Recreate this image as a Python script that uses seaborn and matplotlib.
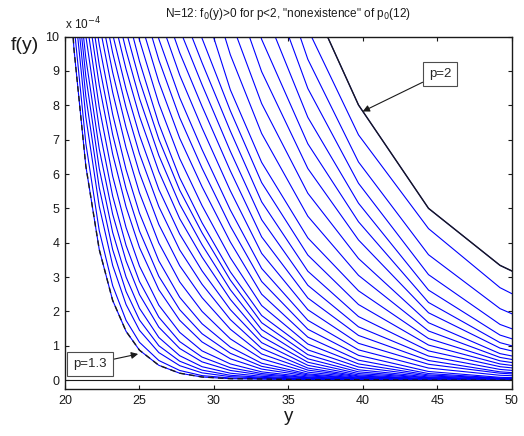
import numpy as np
import pandas as pd
import matplotlib
matplotlib.use("Agg")
import matplotlib.pyplot as plt
import seaborn as sns

# === sample points on the y axis (shared by all curves) ===
y_grid = [19.8, 20.6, 21.4, 22.3, 23.2, 24.1, 25.0, 26.3, 27.7, 29.2, 31.1, 33.2, 36.3, 39.7, 44.4, 49.2, 54.0]

# === f(y) values, in units of 1e-6; each curve sits on the LAST len(curve) points of y_grid ===
# first curve is p=1.3 (dashed), last curve is p=2 (solid black)
f_curves = [
    [1496, 965, 623, 380, 232, 142, 87, 43, 20, 9, 4, 3, 1, 1, 0, 0, 0],
    [1036, 689, 435, 275, 174, 110, 57, 28, 13, 6, 4, 2, 1, 0, 0, 0],
    [1109, 766, 506, 334, 220, 145, 80, 42, 21, 10, 6, 3, 1, 0, 0, 0],
    [1167, 826, 560, 380, 258, 175, 100, 55, 29, 14, 8, 3, 1, 0, 0, 0],
    [1218, 884, 616, 430, 300, 209, 124, 71, 39, 20, 11, 4, 2, 0, 0, 0],
    [1259, 938, 673, 483, 347, 249, 154, 92, 53, 28, 15, 6, 2, 0, 0, 0],
    [1002, 733, 536, 392, 287, 183, 112, 67, 36, 19, 7, 3, 1, 0, 0],
    [1062, 794, 594, 444, 332, 218, 139, 85, 47, 24, 9, 3, 1, 0, 0],
    [1122, 859, 658, 504, 386, 263, 174, 111, 62, 32, 12, 4, 1, 0, 0],
    [1178, 917, 715, 557, 434, 302, 205, 135, 78, 40, 15, 5, 1, 0, 0],
    [1233, 977, 774, 613, 486, 347, 241, 164, 96, 49, 18, 6, 2, 0, 0],
    [1038, 838, 676, 545, 399, 286, 200, 120, 62, 23, 8, 2, 1, 0],
    [1092, 896, 735, 603, 453, 333, 240, 148, 76, 29, 10, 3, 1, 0],
    [1147, 953, 793, 659, 505, 379, 279, 176, 92, 35, 12, 3, 1, 0],
    [1007, 847, 713, 555, 425, 318, 205, 109, 43, 15, 4, 1, 0],
    [1066, 905, 768, 607, 470, 358, 235, 127, 52, 19, 6, 2, 0],
    [1123, 960, 820, 654, 512, 394, 263, 147, 62, 24, 7, 2, 1],
    [1017, 873, 701, 553, 429, 291, 167, 74, 30, 9, 3, 1],
    [1079, 928, 746, 589, 458, 315, 188, 88, 38, 12, 4, 1],
    [1142, 990, 805, 645, 508, 356, 217, 105, 47, 15, 5, 2],
    [1055, 868, 704, 563, 402, 250, 125, 58, 19, 6, 2],
    [1122, 932, 764, 617, 448, 287, 148, 72, 25, 8, 3],
    [1184, 993, 822, 671, 495, 325, 174, 88, 35, 14, 6],
    [1061, 888, 734, 551, 369, 205, 107, 46, 20, 8],
    [1127, 953, 797, 609, 417, 239, 130, 57, 24, 10],
    [1021, 860, 666, 467, 276, 155, 70, 31, 14],
    [1090, 924, 725, 519, 317, 185, 85, 39, 18],
    [1177, 995, 784, 575, 364, 220, 102, 47, 21],
    [1104, 845, 634, 414, 260, 121, 56, 26],
    [1216, 947, 718, 477, 305, 143, 66, 30],
    [1050, 805, 544, 354, 167, 77, 36],
    [1158, 898, 616, 408, 196, 93, 44],
    [1270, 992, 688, 461, 226, 109, 53],
    [1097, 765, 515, 262, 131, 66],
    [1216, 849, 573, 307, 162, 86],
    [1327, 934, 635, 365, 208, 118],
    [1022, 714, 441, 269, 164],
    [1126, 801, 500, 334, 235],
]

x_ticks = [20, 25, 30, 35, 40, 45, 50]
y_ticks = list(range(0, 11))

# === long table for seaborn (f in units of 1e-4, as on the axis) ===
rows = []
for c, vals in enumerate(f_curves):
    for yy, v in zip(y_grid[-len(vals):], vals):
        rows.append((c, yy, v / 100))
df = pd.DataFrame(rows, columns=["curve", "y", "f"])
df_low = df[df["curve"] == 0]
df_high = df[df["curve"] == len(f_curves) - 1]

sns.set_theme(style="white")
plt.rcParams["font.family"] = ["Liberation Sans", "DejaVu Sans"]

fig = plt.figure(figsize=(5.24, 4.36), dpi=100)
ax = fig.add_axes([0.124, 0.107, 0.853, 0.809])

sns.lineplot(data=df, x="y", y="f", units="curve", estimator=None, color="blue", lw=0.8, ax=ax)
sns.lineplot(data=df_low, x="y", y="f", color="k", lw=1, ax=ax).lines[-1].set_dashes([4, 3])
sns.lineplot(data=df_high, x="y", y="f", color="k", lw=1, ax=ax)
ax.axhline(0, color="k", lw=0.8)

ax.set_xlim(20, 50)
ax.set_ylim(-0.27, 10)
ax.set_xticks(x_ticks)
ax.set_yticks(y_ticks)
ax.tick_params(direction="in", length=3, width=0.8, top=True, right=True, bottom=True, left=True,
               labelsize=9, labelcolor="k", color="k", pad=4)
for s in ax.spines.values():
    s.set_color("k")
    s.set_linewidth(1.0)

ax.set_xlabel("y", fontsize=13.5, color="k", labelpad=1)
ax.set_ylabel("f(y)", fontsize=14, color="k", rotation=0)
ax.yaxis.set_label_coords(-0.09, 0.95)
ax.set_title('N=12: f$_0$(y)>0 for p<2, "nonexistence" of p$_0$(12)', fontsize=8.5, color="k", pad=14)
ax.text(0.0, 1.012, "x 10$^{-4}$", transform=ax.transAxes, fontsize=8.5, color="k", ha="left", va="bottom")

# === boxed labels with arrows ===
box = dict(boxstyle="square,pad=0.45", fc="white", ec="0.3", lw=0.8)
arr = dict(arrowstyle="-|>", color="k", lw=0.8, mutation_scale=10, shrinkA=0, shrinkB=0)
ax.annotate("p=2", xy=(39.98, 7.82), xytext=(45.18, 8.92), ha="center", va="center", fontsize=9.5,
            bbox=box, arrowprops=arr)
ax.annotate("p=1.3", xy=(24.91, 0.76), xytext=(21.67, 0.46), ha="center", va="center", fontsize=9.5,
            bbox=box, arrowprops=arr)

plt.savefig("out.png", dpi=100)
